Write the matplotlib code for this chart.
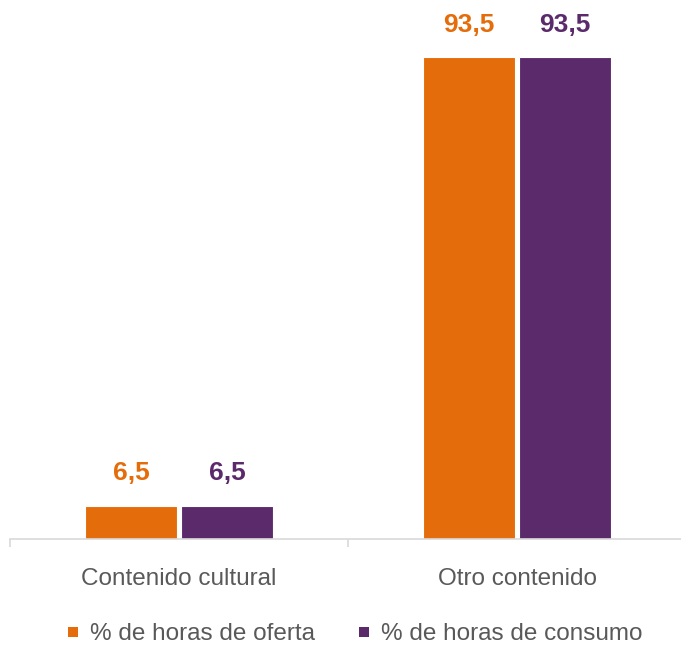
import matplotlib
matplotlib.use("Agg")
import matplotlib.pyplot as plt
import numpy as np
from matplotlib.lines import Line2D

categories = ["Contenido cultural", "Otro contenido"]
series_names = ["% de horas de oferta", "% de horas de consumo"]
oferta = [6.5, 93.5]
consumo = [6.5, 93.5]
labels_oferta = ["6,5", "93,5"]
labels_consumo = ["6,5", "93,5"]

colors = ["#E46C0A", "#5B2A6B"]
font = ["Liberation Sans Narrow", "Liberation Sans", "DejaVu Sans"]
plt.rcParams["font.family"] = font

W, H = 681, 646
fig = plt.figure(figsize=(W / 100, H / 100), dpi=100)
ax = fig.add_axes([10 / W, 1 - 539 / H, 676 / W, 515 / H])

x = np.arange(len(categories))
bw = 0.275
off = 48 / 338
b1 = ax.bar(x - off, oferta, bw, color=colors[0], edgecolor="white", linewidth=0.8)
b2 = ax.bar(x + off, consumo, bw, color=colors[1], edgecolor="white", linewidth=0.8)

for bars, labs, c in [(b1, labels_oferta, colors[0]), (b2, labels_consumo, colors[1])]:
    for r, lab in zip(bars, labs):
        ax.annotate(lab, (r.get_x() + r.get_width() / 2, r.get_height()),
                    xytext=(0, 14.5), textcoords="offset points", ha="center", va="bottom",
                    fontsize=19, fontweight="bold", color=c)

ax.set_xlim(-0.5, 1.5)
ax.set_ylim(0, 100)
ax.set_yticks([])
for s in ["top", "right", "left"]:
    ax.spines[s].set_visible(False)
ax.spines["bottom"].set_color("#d9d9d9")
ax.spines["bottom"].set_linewidth(1.2)
ax.set_xticks([-0.5, 0.5, 1.5], minor=True)
ax.tick_params(axis="x", which="minor", length=6, color="#d9d9d9", width=1.2)
ax.tick_params(axis="x", which="major", length=0, pad=21, labelsize=17.5, labelcolor="#595959")
ax.set_xticks(x)
ax.set_xticklabels(categories)

handles = [Line2D([], [], marker="s", linestyle="none", markersize=7.5,
                  markerfacecolor=c, markeredgecolor=c, markeredgewidth=0) for c in colors]
fig.legend(handles, series_names, loc="center", bbox_to_anchor=(355 / W, 1 - 634 / H),
           ncol=2, frameon=False, fontsize=17.5, labelcolor="#595959",
           handlelength=0.45, handletextpad=0.45, columnspacing=1.8)

fig.savefig("out.png", dpi=100)
